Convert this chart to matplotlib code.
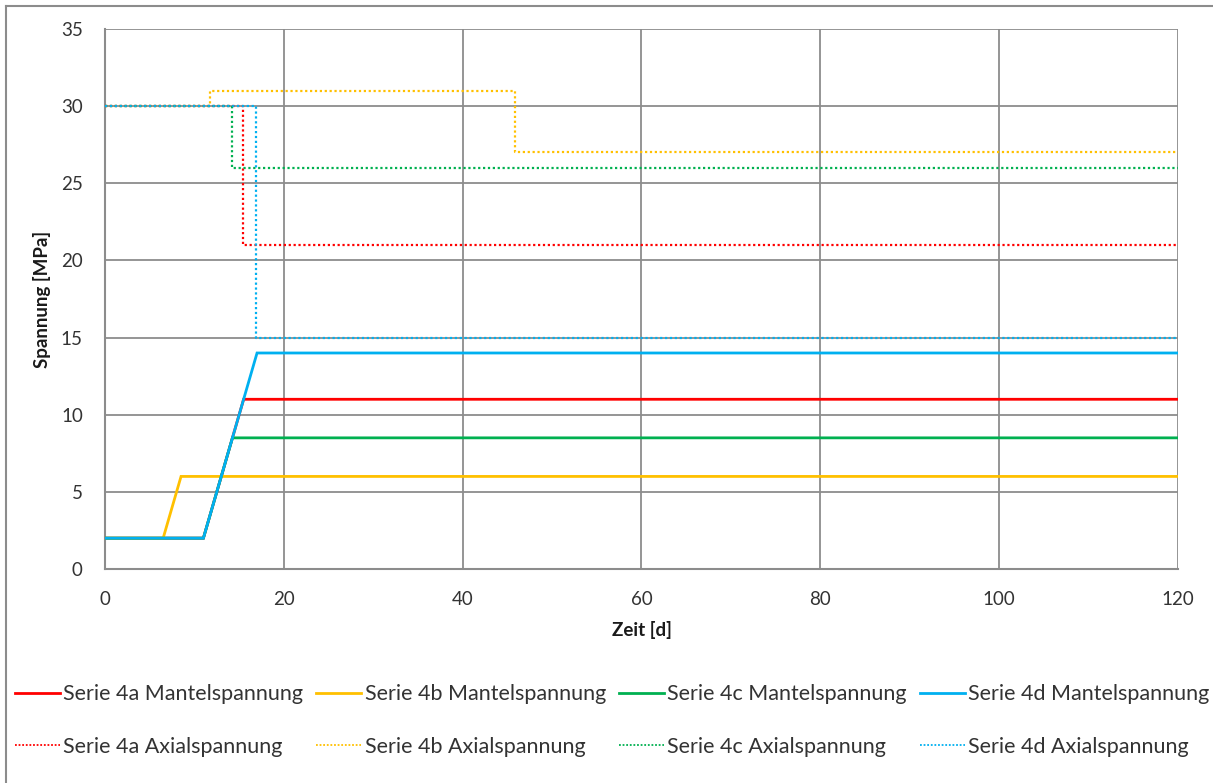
import matplotlib
matplotlib.use("Agg")
import matplotlib.pyplot as plt
from matplotlib.lines import Line2D

plt.rcParams["font.family"] = ["Lato", "DejaVu Sans"]

# --- data ---
# Mantelspannung (solid), [x (d), y (MPa)]
mantel_4a_x = [0, 11, 15.5, 120]
mantel_4a_y = [2, 2, 11, 11]
mantel_4b_x = [0, 6.5, 8.5, 120]
mantel_4b_y = [2, 2, 6, 6]
mantel_4c_x = [0, 11, 14.25, 120]
mantel_4c_y = [2, 2, 8.5, 8.5]
mantel_4d_x = [0, 11, 17, 120]
mantel_4d_y = [2, 2, 14, 14]

# Axialspannung (dotted, stepped)
axial_4a_x = [0, 15.4, 15.4, 120]
axial_4a_y = [30, 30, 21, 21]
axial_4b_x = [0, 11.7, 11.7, 45.8, 45.8, 120]
axial_4b_y = [30, 30, 31, 31, 27, 27]
axial_4c_x = [0, 14.2, 14.2, 120]
axial_4c_y = [30, 30, 26, 26]
axial_4d_x = [0, 16.9, 16.9, 120]
axial_4d_y = [30, 30, 15, 15]

series_names = ["4a", "4b", "4c", "4d"]
colors = ["#FF0000", "#FFC000", "#00B050", "#00B0F0"]

x_ticks = [0, 20, 40, 60, 80, 100, 120]
y_ticks = [0, 5, 10, 15, 20, 25, 30, 35]

mantel = [(mantel_4a_x, mantel_4a_y), (mantel_4b_x, mantel_4b_y),
          (mantel_4c_x, mantel_4c_y), (mantel_4d_x, mantel_4d_y)]
axial = [(axial_4a_x, axial_4a_y), (axial_4b_x, axial_4b_y),
         (axial_4c_x, axial_4c_y), (axial_4d_x, axial_4d_y)]

text_color = "#333333"
grid_color = "#8C8C8C"

fig = plt.figure(figsize=(12.13, 7.83), dpi=100)
ax = fig.add_axes([0.0866, 0.2733, 0.8845, 0.6897])

handles = []
for name, color, (mx, my), (axx, axy) in zip(series_names, colors, mantel, axial):
    hm, = ax.plot(mx, my, color=color, linewidth=2.0, solid_joinstyle="miter",
                  label=f"Serie {name} Mantelspannung", zorder=3)
    ha, = ax.plot(axx, axy, color=color, linewidth=1.6, linestyle=(0, (1, 1.2)),
                  label=f"Serie {name} Axialspannung", zorder=3)
    handles += [hm, ha]

ax.set_xlim(0, 120)
ax.set_ylim(0, 35)
ax.set_xticks(x_ticks)
ax.set_yticks(y_ticks)
ax.tick_params(axis="both", length=0, labelsize=13.5, pad=16, labelcolor=text_color)
ax.grid(True, color=grid_color, linewidth=1.3)
ax.set_axisbelow(True)
for side in ["left", "bottom"]:
    ax.spines[side].set_color(grid_color)
    ax.spines[side].set_linewidth(1.5)
for side in ["top", "right"]:
    ax.spines[side].set_visible(False)

ax.set_xlabel("Zeit [d]", fontsize=13.5, fontweight="bold", labelpad=9, color="#1a1a1a")
ax.set_ylabel("Spannung [MPa]", fontsize=13.5, fontweight="bold", labelpad=7, color="#1a1a1a")

# thinner legend handles for the dotted series, like the reference
leg_handles = []
for h in handles:
    if h.get_linestyle() == "-":
        leg_handles.append(Line2D([], [], color=h.get_color(), linewidth=2.0,
                                  label=h.get_label()))
    else:
        leg_handles.append(Line2D([], [], color=h.get_color(), linewidth=1.3,
                                  linestyle=(0, (1, 1)), label=h.get_label()))

leg = fig.legend(handles=leg_handles, loc="center", bbox_to_anchor=(0.5045, 0.0798), ncol=4,
                 frameon=False, fontsize=15.5, handlelength=2.1, handletextpad=0.15,
                 columnspacing=0.6, labelspacing=1.5)
for t in leg.get_texts():
    t.set_color(text_color)

# outer chart border (only top and left visible in the reference)
fig.add_artist(Line2D([6 / 1213, 6 / 1213], [0, 1 - 6 / 783], transform=fig.transFigure,
                      color=grid_color, linewidth=1.5))
fig.add_artist(Line2D([6 / 1213, 1], [1 - 6 / 783, 1 - 6 / 783], transform=fig.transFigure,
                      color=grid_color, linewidth=1.5))

fig.savefig("out.png", dpi=100)
